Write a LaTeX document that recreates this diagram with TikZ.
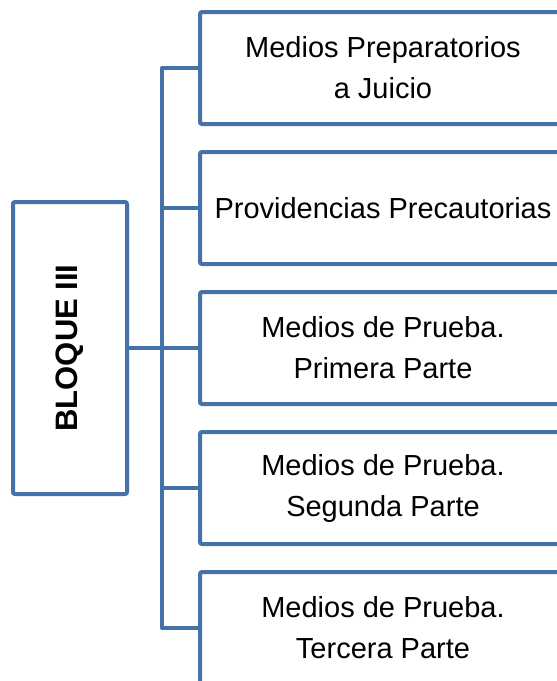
\documentclass[tikz,border=0pt]{standalone}
\usepackage{fontspec}
\setmainfont{Liberation Sans}
\usepackage{tikz}
\usetikzlibrary{shapes.geometric, arrows}
\definecolor{blockblue}{RGB}{69,114,167}

\begin{document}
\begin{tikzpicture}[x=1pt,y=-1pt]
        \tikzstyle{proc} = [rectangle, rounded corners=2pt, minimum width=366pt, minimum height=112pt, inner sep=0pt, text centered, align=center, draw=blockblue, line width=4pt, font=\fontsize{29}{41}\selectfont]
        \tikzstyle{proc1} = [rectangle, rounded corners=2pt, minimum width=114pt, minimum height=292pt, inner sep=0pt, text centered, draw=blockblue, line width=4pt, font=\fontsize{31}{36}\selectfont\bfseries]
        \tikzstyle{link} = [draw=blockblue, line width=4pt, line join=round]
        \useasboundingbox (0,0) rectangle (557,681);
        \clip (0,0) rectangle (557,681);
		\node [proc1] (0) at (70, 348) {\rotatebox{90}{BLOQUE III}};
		\node [proc] (1) at (383, 68) {Medios Preparatorios\\a Juicio};
		\node [proc] (2) at (383, 208) {Providencias Precautorias};
		\node [proc] (3) at (383, 348) {Medios de Prueba.\\Primera Parte};
		\node [proc] (4) at (383, 488) {Medios de Prueba.\\Segunda Parte};
		\node [proc] (5) at (383, 628) {Medios de Prueba.\\Tercera Parte};
		\coordinate (s) at (162, 0);
		\draw[link] (1.west) to (1.west -| s) to (5.west -| s) to (5.west);
		\draw[link] (0.east) to (0.east -| s);
		\foreach \i in {2,3,4}
			\draw[link] (\i.west) to (\i.west -| s);
    \end{tikzpicture}
\end{document}
